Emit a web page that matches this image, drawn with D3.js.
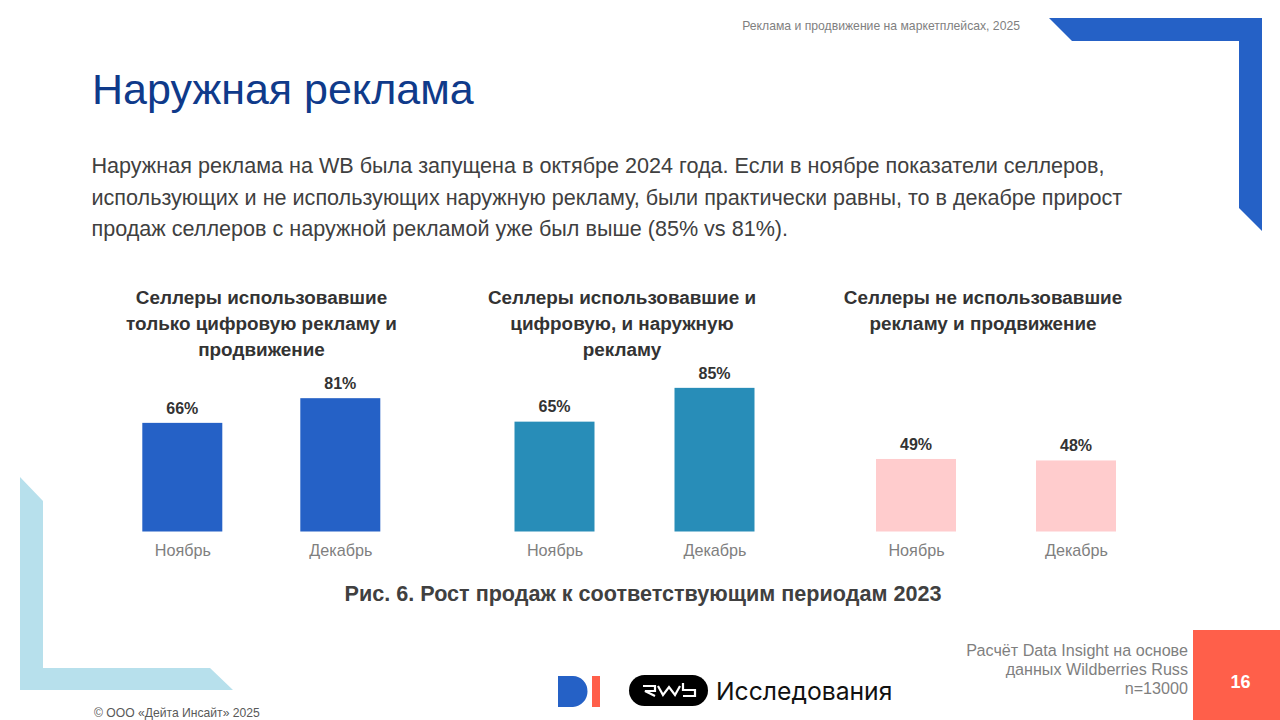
<!DOCTYPE html>
<html>
<head>
  <meta charset="utf-8">
  <script src="https://cdnjs.cloudflare.com/ajax/libs/d3/7.8.5/d3.min.js"></script>
  <style>
  html, body { margin: 0; padding: 0; background: #fff; }
  svg { display: block; font-family: "Liberation Sans", Arial, sans-serif; }
  .tick text { font-size: 16.2px; fill: #7f7f7f; }
  </style>
</head>
<body>
  <script type="text/javascript">
  // chart data
  var months = ["Ноябрь", "Декабрь"];
  var digitalOnly = [66, 81];
  var digitalOutdoor = [65, 85];
  var noAds = [49, 48];

  var titleDigitalOnly = ["Селлеры использовавшие", "только цифровую рекламу и", "продвижение"];
  var titleDigitalOutdoor = ["Селлеры использовавшие и", "цифровую, и наружную", "рекламу"];
  var titleNoAds = ["Селлеры не использовавшие", "рекламу и продвижение"];

  var bodyLines = [
    "Наружная реклама на WB была запущена в октябре 2024 года. Если в ноябре показатели селлеров,",
    "использующих и не использующих наружную рекламу, были практически равны, то в декабре прирост",
    "продаж селлеров с наружной рекламой уже был выше (85% vs 81%)."
  ];
  var sourceLines = ["Расчёт Data Insight на основе", "данных Wildberries Russ", "n=13000"];

  var width = 1280, height = 720, baseline = 531.5, barWidth = 80;

  var svg = d3.select("body").append("svg")
    .attr("width", width)
    .attr("height", height);

  // decorative corners
  svg.append("path").attr("fill", "#2561c6")
    .attr("d", "M1049,18H1262V231L1239,208V41H1072Z");
  svg.append("path").attr("fill", "#b7e0ec")
    .attr("d", "M20,477L43,501V668H210L233,690H20Z");

  // header
  svg.append("text").attr("x", 1020).attr("y", 29.5).attr("text-anchor", "end")
    .attr("font-size", 12.2).attr("fill", "#7f7f7f")
    .text("Реклама и продвижение на маркетплейсах, 2025");
  svg.append("text").attr("x", 92).attr("y", 103.5)
    .attr("font-size", 43).attr("fill", "#0f3a8a")
    .text("Наружная реклама");

  svg.selectAll(".body-line").data(bodyLines).enter().append("text")
    .attr("class", "body-line")
    .attr("x", 91.5)
    .attr("y", function(d, i) { return 173 + i * 31.5; })
    .attr("font-size", 21.58).attr("fill", "#404040")
    .text(function(d) { return d; });

  function drawPanel(values, title, color, xRange, yHeight, titleX) {
    var x = d3.scalePoint().domain(months).range(xRange);
    var y = d3.scaleLinear().domain([0, 100]).range([baseline, baseline - yHeight]);
    var g = svg.append("g");

    g.selectAll(".bar").data(values).enter().append("rect")
      .attr("class", "bar")
      .attr("x", function(d, i) { return x(months[i]) - barWidth / 2; })
      .attr("y", function(d) { return y(d); })
      .attr("width", barWidth)
      .attr("height", function(d) { return baseline - y(d); })
      .attr("fill", color);

    g.selectAll(".value").data(values).enter().append("text")
      .attr("class", "value")
      .attr("x", function(d, i) { return x(months[i]); })
      .attr("y", function(d) { return y(d) - 9.2; })
      .attr("text-anchor", "middle")
      .attr("font-size", 16).attr("font-weight", "bold").attr("fill", "#333")
      .text(function(d) { return d + "%"; });

    var axis = d3.axisBottom(x).tickSize(0).tickPadding(13);
    g.append("g").attr("transform", "translate(0," + baseline + ")").call(axis)
      .call(function(s) { s.select(".domain").remove(); });

    g.selectAll(".panel-title").data(title).enter().append("text")
      .attr("class", "panel-title")
      .attr("x", titleX)
      .attr("y", function(d, i) { return 304 + i * 26; })
      .attr("text-anchor", "middle")
      .attr("font-size", 18.9).attr("font-weight", "bold").attr("fill", "#333")
      .text(function(d) { return d; });
  }

  drawPanel(digitalOnly, titleDigitalOnly, "#2561c6", [182.3, 340.3], 164.6, 261.5);
  drawPanel(digitalOutdoor, titleDigitalOutdoor, "#288db8", [554.5, 714.5], 169, 622);
  drawPanel(noAds, titleNoAds, "#ffcccd", [916, 1076], 148, 983);

  svg.append("text").attr("x", 643).attr("y", 601).attr("text-anchor", "middle")
    .attr("font-size", 21.6).attr("font-weight", "bold").attr("fill", "#404040")
    .text("Рис. 6. Рост продаж к соответствующим периодам 2023");

  // footer
  svg.append("text").attr("x", 94).attr("y", 717)
    .attr("font-size", 12.15).attr("fill", "#595959")
    .text("© ООО «Дейта Инсайт» 2025");

  svg.selectAll(".source").data(sourceLines).enter().append("text")
    .attr("class", "source")
    .attr("x", 1188)
    .attr("y", function(d, i) { return 655.5 + i * 19; })
    .attr("text-anchor", "end")
    .attr("font-size", 16.15).attr("fill", "#7f7f7f")
    .text(function(d) { return d; });

  svg.append("rect").attr("x", 1193).attr("y", 630).attr("width", 87).attr("height", 90).attr("fill", "#ff5f4a");
  svg.append("text").attr("x", 1240.5).attr("y", 688).attr("text-anchor", "middle")
    .attr("font-size", 18).attr("font-weight", "bold").attr("fill", "#fff")
    .text("16");

  // logos
  svg.append("path").attr("fill", "#2561c6")
    .attr("d", "M558,676H573A14.5,15.5 0 0 1 587.5,691.5A15.5,15.5 0 0 1 573,707H558Z");
  svg.append("rect").attr("x", 592).attr("y", 676).attr("width", 8).attr("height", 31).attr("fill", "#ff5f4a");
  svg.append("rect").attr("x", 629).attr("y", 675).attr("width", 79).attr("height", 31).attr("rx", 15.5).attr("fill", "#000");
  svg.append("path").attr("fill", "none").attr("stroke", "#fff").attr("stroke-width", 2.2)
    .attr("d", "M643,686H655V691H645L655,696M658,686L663,695L669,687L675,695L680,686M683,683V690H695V696H683");
  svg.append("text").attr("x", 716).attr("y", 700)
    .attr("font-family", "Inter, Roboto, sans-serif")
    .attr("font-size", 24.7).attr("fill", "#111")
    .text("Исследования");
  </script>
</body>
</html>
